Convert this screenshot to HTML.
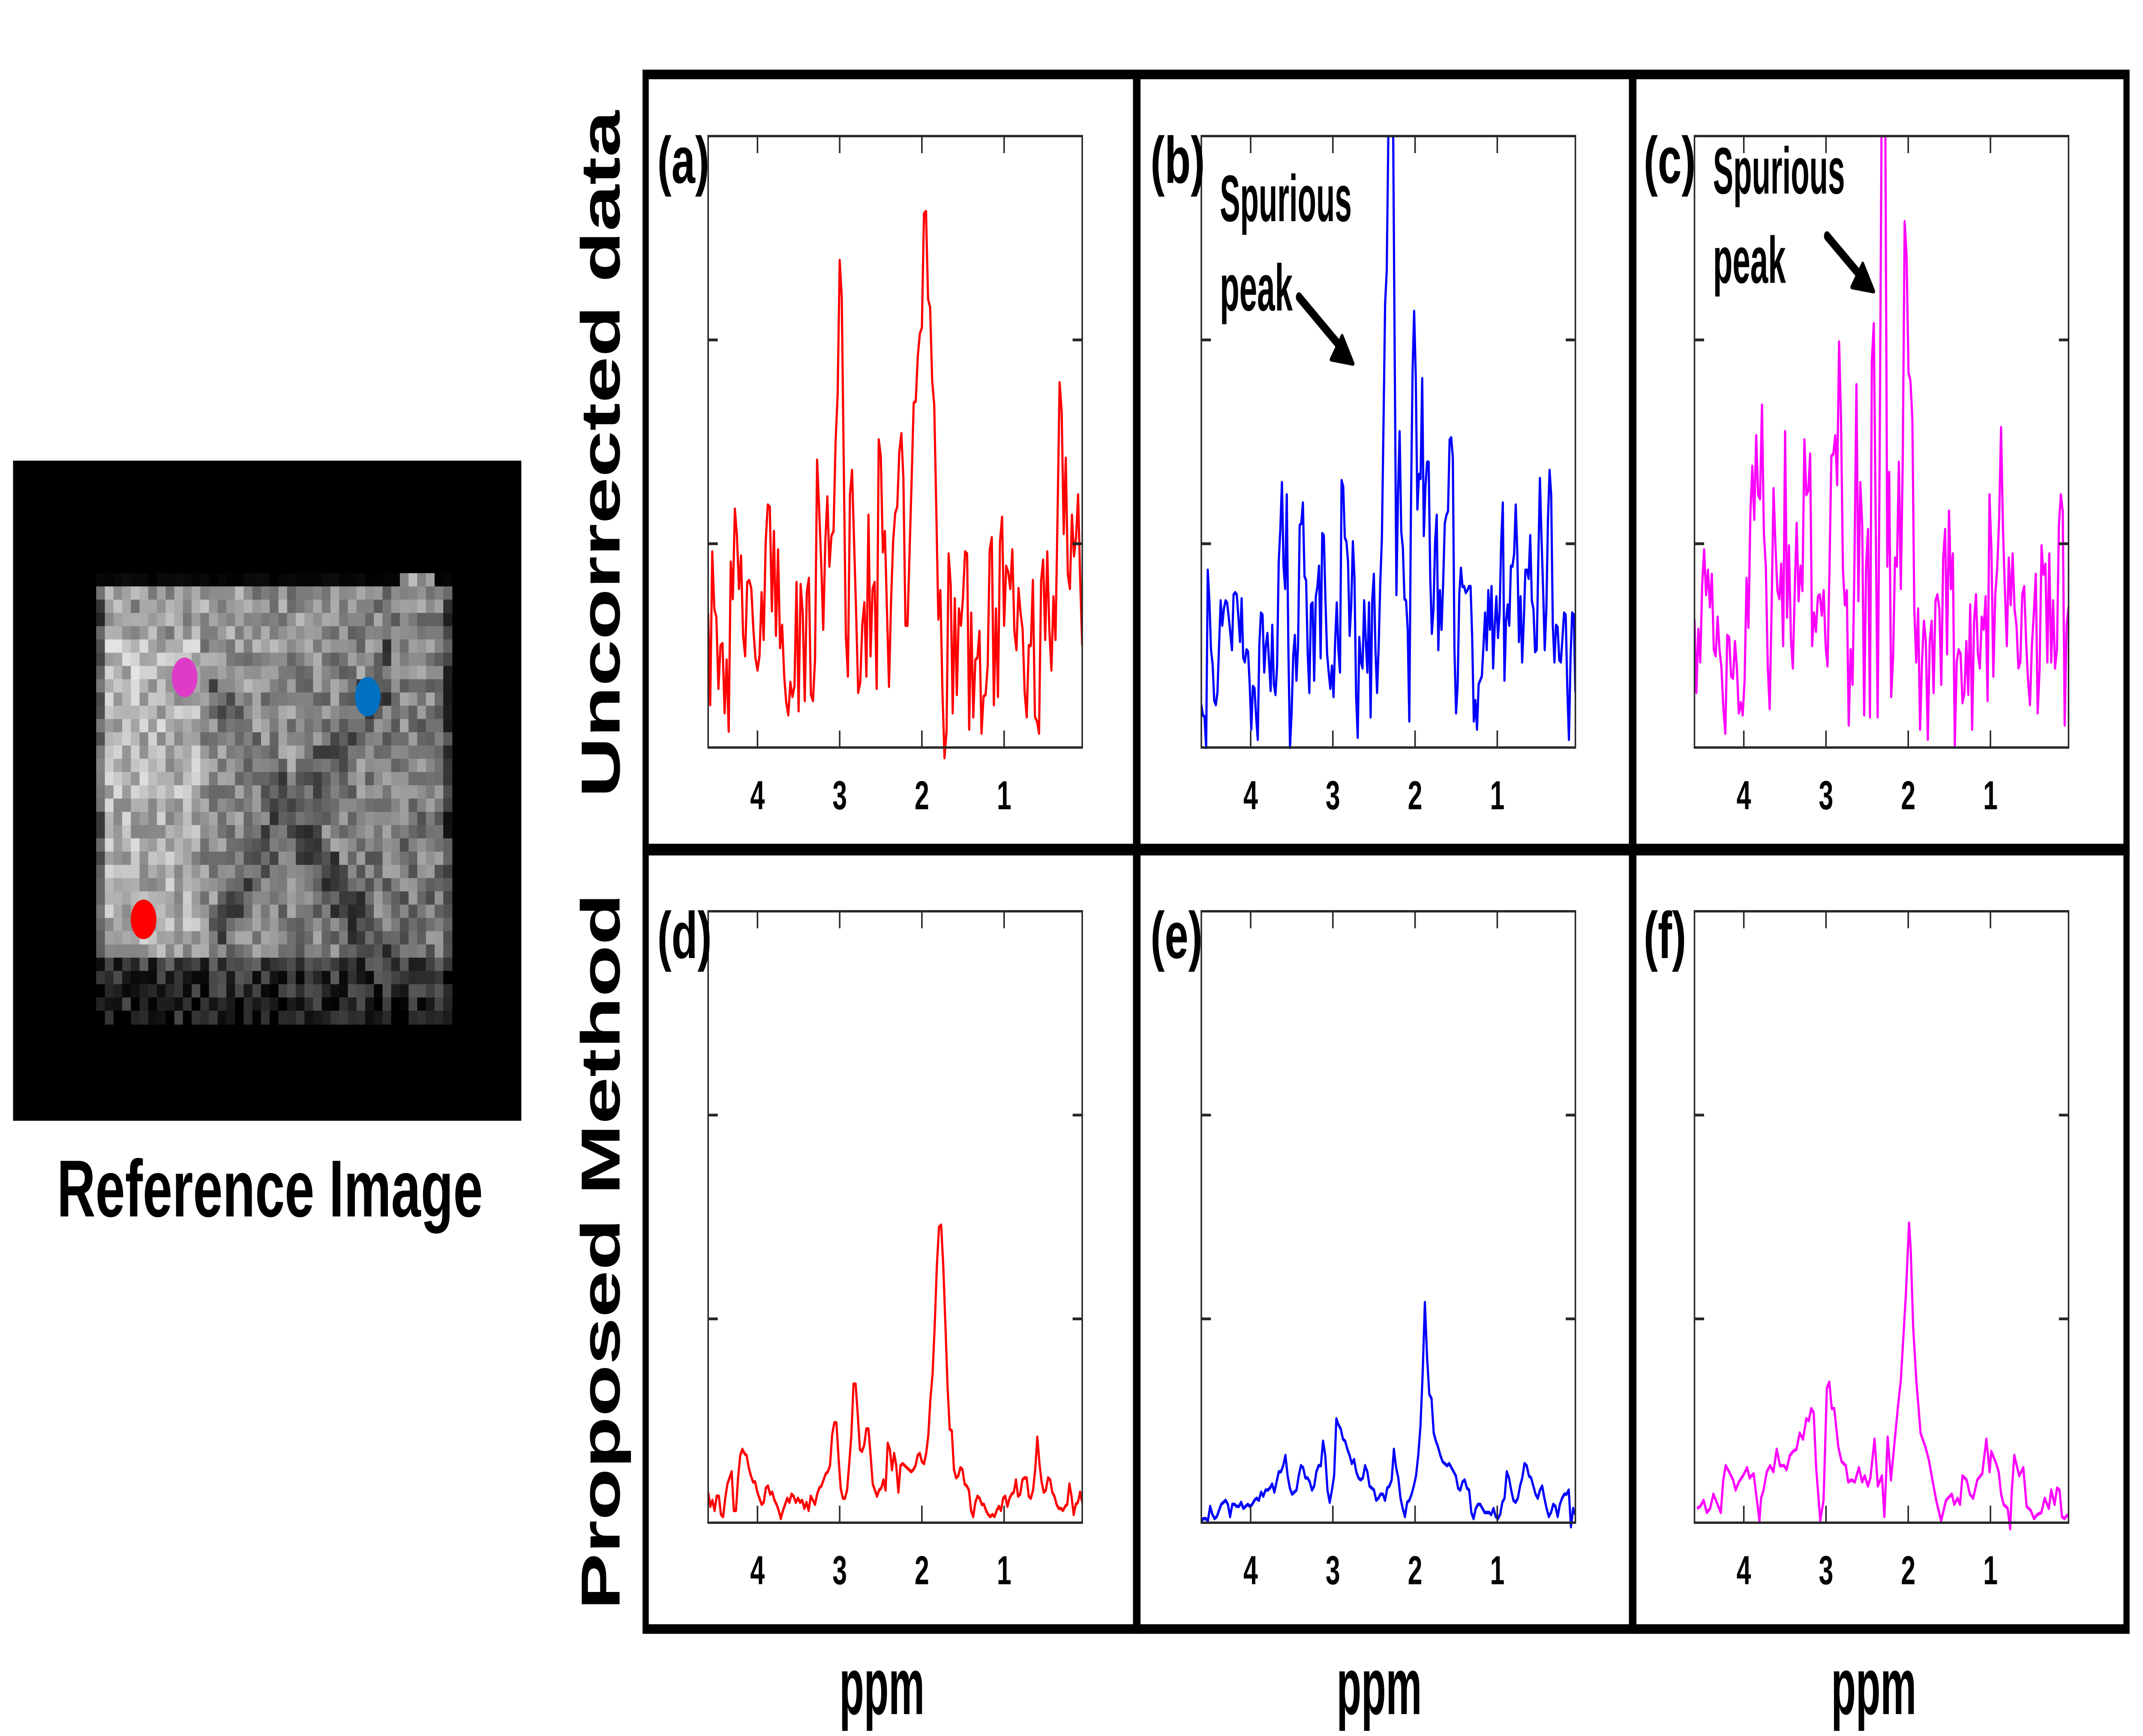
<!DOCTYPE html>
<html><head><meta charset="utf-8">
<style>
html,body{margin:0;padding:0;background:#fff;width:100vw;height:100vh;overflow:hidden;}
svg{display:block;position:absolute;left:0;top:0;width:100vw;height:100vh;}
text{font-family:"Liberation Sans Narrow","Liberation Sans",sans-serif;font-weight:bold;fill:#000;}
.big{font-family:"Liberation Sans",sans-serif;}
</style></head>
<body>
<svg id="fig" xmlns="http://www.w3.org/2000/svg" viewBox="0 0 1560 816.3" preserveAspectRatio="none">
  <rect x="0" y="0" width="1560" height="816.3" fill="#fff"/>
  <g id="refimg">
    <rect x="9.5" y="216.6" width="370" height="310.4" fill="#000"/>
    <g id="pix"></g>
    <circle cx="134.4" cy="318.5" r="9.3" fill="#DD3BC8"/>
    <circle cx="267.7" cy="327.6" r="9.3" fill="#0070C0"/>
    <circle cx="104.5" cy="432.3" r="9.3" fill="#FF0000"/>
  </g>
  <text class="big" x="41.5" y="572" font-size="38" textLength="310" lengthAdjust="spacingAndGlyphs">Reference Image</text>

  <text class="big" font-size="40" transform="translate(451,213.5) rotate(-90)" text-anchor="middle" textLength="323" lengthAdjust="spacingAndGlyphs">Uncorrected data</text>
  <text class="big" font-size="40" transform="translate(451,588.5) rotate(-90)" text-anchor="middle" textLength="337" lengthAdjust="spacingAndGlyphs">Proposed Method</text>

  <text x="642" y="806" font-size="38" text-anchor="middle" textLength="62" lengthAdjust="spacingAndGlyphs">ppm</text>
  <text x="1004" y="806" font-size="38" text-anchor="middle" textLength="62" lengthAdjust="spacingAndGlyphs">ppm</text>
  <text x="1364" y="806" font-size="38" text-anchor="middle" textLength="62" lengthAdjust="spacingAndGlyphs">ppm</text>

  <g id="panels"></g>

  <g fill="none" stroke="#000" stroke-width="4.5">
    <rect x="470" y="35" width="357" height="364"/>
    <rect x="828" y="35" width="360" height="364"/>
    <rect x="1189" y="35" width="359" height="364"/>
    <rect x="470" y="400" width="357" height="366"/>
    <rect x="828" y="400" width="360" height="366"/>
    <rect x="1189" y="400" width="359" height="366"/>
  </g>

  <g>
    <text x="888" y="104" font-size="31" textLength="96" lengthAdjust="spacingAndGlyphs">Spurious</text>
    <text x="888" y="146" font-size="31" textLength="53" lengthAdjust="spacingAndGlyphs">peak</text>
    <line x1="945.6" y1="139.7" x2="977" y2="164" stroke="#000" stroke-width="4.5" stroke-linecap="round"/>
    <polygon points="985,171 969,169 977,158" fill="#000" stroke="#000" stroke-width="2" stroke-linejoin="round"/>
  </g>
  <g>
    <text x="1247" y="91" font-size="31" textLength="96" lengthAdjust="spacingAndGlyphs">Spurious</text>
    <text x="1247" y="133" font-size="31" textLength="53" lengthAdjust="spacingAndGlyphs">peak</text>
    <line x1="1330" y1="111" x2="1356" y2="131" stroke="#000" stroke-width="4.5" stroke-linecap="round"/>
    <polygon points="1364,137 1348,135 1356,124" fill="#000" stroke="#000" stroke-width="2" stroke-linejoin="round"/>
  </g>
</svg>
<script>
// ---------- chart data ----------
const xTicks = [4, 3, 2, 1];
const xTickLabels = ["4", "3", "2", "1"];
const yTicks = [1, 2];
const ppmStart = 4.6;
const ppmEnd = 0.05;
const yMin = 0;
const yMax = 3;

const seriesA = [0.66,0.21,0.96,0.68,0.64,0.29,0.50,0.51,0.17,0.43,0.08,0.91,0.73,1.17,1.04,0.78,0.94,0.55,0.45,0.81,0.82,0.78,0.58,0.44,0.38,0.45,0.76,0.53,1.01,1.19,1.18,0.67,1.06,0.55,0.97,0.49,0.60,0.35,0.22,0.16,0.32,0.25,0.30,0.81,0.18,0.80,0.66,0.23,0.76,0.83,0.26,0.23,0.43,1.41,1.17,0.91,0.58,1.01,1.23,0.89,1.04,1.06,1.50,1.73,2.39,2.21,1.37,0.55,0.35,1.24,1.36,1.01,0.66,0.27,0.32,0.60,0.71,0.35,1.14,0.45,0.78,0.81,0.29,1.51,1.43,0.96,1.06,0.67,0.30,0.72,1.01,1.15,1.18,1.45,1.54,1.32,0.60,0.60,0.96,1.31,1.69,1.70,1.92,2.03,2.06,2.62,2.63,2.20,2.16,1.80,1.68,1.17,0.63,0.77,0.27,-0.05,0.08,0.95,0.80,0.17,0.73,0.26,0.68,0.60,0.74,0.96,0.95,0.09,0.66,0.15,0.43,0.44,0.57,0.07,0.25,0.26,0.40,0.97,1.03,0.21,0.68,0.25,1.01,1.13,0.60,0.89,0.86,0.78,0.97,0.57,0.48,0.78,0.66,0.58,0.27,0.15,0.50,0.50,0.82,0.15,0.13,0.07,0.82,0.92,0.53,0.96,0.58,0.38,0.74,0.53,1.14,1.79,1.65,1.05,1.42,0.85,0.78,1.14,0.94,1.03,1.24,0.83,0.50];

const seriesB = [0.21,0.16,0.15,0,0.87,0.72,0.48,0.41,0.23,0.21,0.27,0.50,0.72,0.60,0.68,0.72,0.71,0.64,0.56,0.48,0.75,0.76,0.75,0.64,0.52,0.73,0.44,0.42,0.48,0.47,0.31,0.09,0.30,0.29,0.15,0.04,0.51,0.66,0.65,0.37,0.50,0.56,0.42,0.28,0.60,0.31,0.26,0.40,0.91,1.07,1.30,0.89,0.78,1.24,0.48,0,0.17,0.45,0.55,0.33,0.50,1.09,1.10,1.20,0.84,0.82,0.46,0.27,0.70,0.71,0.33,0.74,0.79,0.89,0.44,1.05,1.04,0.72,0.46,0.37,0.29,0.40,0.25,0.52,0.71,0.48,0.37,1.31,1.28,1.03,1.01,0.91,0.55,0.70,1.01,0.83,0.25,0.05,0.54,0.42,0.39,0.72,0.52,0.37,0.71,0.15,0.72,0.85,0.48,0.27,0.50,0.81,1.03,1.59,2.18,2.34,3.01,3.6,3.6,3.01,1.86,0.75,1.25,1.55,1.06,0.98,0.73,0.72,0.58,0.13,1.16,1.84,2.14,1.82,1.17,1.34,1.32,1.81,1.04,1.28,1.40,1.40,0.83,0.56,0.68,1.01,1.14,0.48,0.77,0.58,0.81,1.10,1.14,1.16,1.51,1.52,1.42,0.48,0.17,0.31,0.75,0.88,0.79,0.79,0.76,0.77,0.79,0.79,0.54,0.13,0.23,0.09,0.31,0.33,0.35,0.50,0.66,0.48,0.77,0.58,0.79,0.39,0.60,0.74,0.54,0.66,1.01,1.20,0.33,0.62,0.70,0.60,0.89,0.89,0.95,1.19,0.95,0.52,0.74,0.42,0.62,0.87,0.87,0.83,1.04,0.72,0.68,0.47,0.48,0.91,1.32,1.03,0.77,0.48,0.68,1.12,1.36,1.24,0.60,0.42,0.60,0.59,0.43,0.42,0.54,0.66,0.65,0.29,0.04,0.44,0.66,0.65,0.27];

const seriesC = [0.63,0.27,0.58,0.42,0.80,0.97,0.75,0.87,0.69,0.85,0.48,0.45,0.64,0.48,0.39,0.19,0.07,0.55,0.54,0.35,0.34,0.52,0.39,0.17,0.22,0.16,0.33,0.83,0.59,1.15,1.38,1.12,1.53,1.24,1.22,1.68,1.05,0.89,0.40,0.19,0.68,1.27,0.99,0.77,0.73,0.90,0.50,1.55,0.64,0.99,0.54,0.39,0.77,1.10,0.72,0.89,0.77,1.51,1.24,1.26,1.44,0.50,0.66,0.57,0.74,0.75,0.65,0.77,0.50,0.40,0.87,1.43,1.44,1.53,1.29,1.99,1.61,0.87,0.70,0.77,0.11,0.48,0.31,0.93,1.78,0.72,1.30,1.09,0.16,0.89,1.07,0.15,1.90,2.08,1.09,0.15,1.36,3.01,3.6,3.01,0.89,1.35,0.25,0.44,0.93,0.89,1.40,0.78,1.40,2.58,2.41,1.84,1.80,1.61,0.68,0.42,0.68,0.09,0.42,0.62,0.52,0.04,0.52,0.62,0.27,0.72,0.75,0.68,0.31,0.93,1.07,0.46,1.16,0.78,0.95,0.01,0.42,0.48,0.46,0.22,0.27,0.52,0.26,0.70,0.09,0.62,0.75,0.46,0.39,0.64,0.58,0.74,0.23,1.24,0.97,0.35,0.75,0.88,1.12,1.57,1.07,0.77,0.50,0.93,0.70,0.95,0.68,0.60,0.39,0.42,0.75,0.79,0.52,0.33,0.21,0.50,0.66,0.85,0.17,0.39,0.99,0.85,0.90,0.42,0.95,0.42,0.72,0.39,0.48,1.09,1.24,1.16,0.11,0.60,0.69];

const seriesD = [0.15,0.08,0.11,0.06,0.13,0.13,0.04,0.03,0.12,0.19,0.22,0.25,0.06,0.06,0.22,0.33,0.36,0.34,0.33,0.27,0.23,0.20,0.20,0.15,0.12,0.09,0.10,0.17,0.18,0.14,0.15,0.11,0.09,0.06,0.02,0.06,0.09,0.12,0.10,0.14,0.13,0.10,0.12,0.10,0.11,0.07,0.10,0.06,0.13,0.11,0.09,0.14,0.17,0.18,0.21,0.24,0.25,0.28,0.43,0.49,0.49,0.32,0.17,0.12,0.12,0.16,0.29,0.43,0.68,0.68,0.53,0.36,0.35,0.38,0.46,0.46,0.33,0.19,0.16,0.13,0.16,0.17,0.21,0.16,0.39,0.36,0.26,0.34,0.28,0.15,0.28,0.29,0.28,0.27,0.26,0.25,0.26,0.28,0.33,0.34,0.30,0.29,0.34,0.43,0.61,0.73,0.97,1.26,1.45,1.46,1.26,0.97,0.67,0.46,0.45,0.26,0.22,0.23,0.27,0.26,0.19,0.18,0.16,0.06,0.03,0.10,0.13,0.12,0.09,0.09,0.06,0.04,0.03,0.04,0.03,0.06,0.08,0.06,0.12,0.13,0.08,0.12,0.14,0.15,0.21,0.13,0.14,0.21,0.22,0.22,0.13,0.12,0.16,0.26,0.42,0.29,0.20,0.15,0.16,0.22,0.21,0.15,0.13,0.09,0.07,0.07,0.06,0.08,0.09,0.19,0.13,0.04,0.09,0.10,0.15,0.10];

const seriesE = [0.01,0.02,0.02,0.01,0.08,0.04,0.02,0.03,0.06,0.09,0.10,0.11,0.09,0.03,0.09,0.09,0.08,0.08,0.10,0.07,0.08,0.09,0.08,0.09,0.11,0.12,0.11,0.15,0.13,0.16,0.16,0.17,0.19,0.15,0.20,0.25,0.25,0.28,0.33,0.23,0.17,0.14,0.15,0.16,0.23,0.28,0.27,0.22,0.22,0.20,0.16,0.18,0.25,0.28,0.28,0.40,0.33,0.16,0.10,0.16,0.23,0.51,0.48,0.46,0.41,0.40,0.36,0.33,0.29,0.31,0.25,0.22,0.21,0.22,0.28,0.25,0.18,0.17,0.16,0.11,0.12,0.14,0.14,0.11,0.17,0.18,0.21,0.36,0.27,0.22,0.12,0.07,0.03,0.10,0.11,0.14,0.18,0.23,0.33,0.47,0.73,1.08,0.81,0.63,0.61,0.44,0.40,0.37,0.33,0.30,0.29,0.28,0.29,0.27,0.25,0.23,0.17,0.16,0.20,0.21,0.17,0.16,0.05,0.02,0.07,0.09,0.09,0.07,0.05,0.05,0.05,0.04,0.07,0.03,0.02,0.04,0.10,0.12,0.25,0.22,0.16,0.11,0.10,0.12,0.18,0.22,0.29,0.28,0.23,0.22,0.18,0.14,0.12,0.16,0.18,0.12,0.07,0.03,0.05,0.09,0.08,0.03,0.09,0.12,0.14,0.14,0.16,-0.02,0.07,0.04];

const ppmF = [4.57,4.53,4.49,4.45,4.41,4.37,4.32,4.28,4.25,4.22,4.18,4.13,4.10,4.06,4.01,3.96,3.93,3.88,3.85,3.81,3.79,3.76,3.72,3.68,3.64,3.60,3.56,3.51,3.48,3.44,3.40,3.36,3.32,3.28,3.24,3.21,3.18,3.15,3.12,3.07,3.03,2.99,2.96,2.93,2.90,2.85,2.81,2.76,2.73,2.69,2.65,2.60,2.56,2.53,2.49,2.46,2.41,2.37,2.32,2.29,2.25,2.21,2.13,2.09,2.03,1.99,1.97,1.94,1.90,1.85,1.79,1.75,1.71,1.66,1.60,1.54,1.47,1.44,1.40,1.37,1.34,1.29,1.25,1.21,1.16,1.10,1.05,1.01,0.99,0.93,0.90,0.87,0.84,0.79,0.76,0.74,0.71,0.68,0.65,0.60,0.56,0.51,0.47,0.43,0.38,0.34,0.29,0.26,0.22,0.19,0.16,0.13,0.10,0.06];
const seriesF = [0.07,0.08,0.11,0.05,0.07,0.14,0.09,0.05,0.21,0.28,0.25,0.21,0.16,0.20,0.23,0.27,0.22,0.24,0.14,0.01,0.12,0.16,0.25,0.28,0.25,0.36,0.28,0.28,0.26,0.33,0.35,0.36,0.44,0.41,0.51,0.50,0.56,0.54,0.27,0.01,0.11,0.66,0.69,0.56,0.56,0.37,0.30,0.28,0.20,0.21,0.20,0.27,0.20,0.23,0.18,0.22,0.41,0.18,0.23,0.03,0.42,0.21,0.55,0.70,1.11,1.47,1.34,0.96,0.69,0.44,0.37,0.31,0.22,0.11,0.01,0.11,0.14,0.09,0.12,0.09,0.23,0.21,0.14,0.12,0.21,0.24,0.41,0.25,0.35,0.29,0.25,0.14,0.09,0.07,-0.03,0.16,0.33,0.28,0.23,0.27,0.08,0.06,0.02,0.04,0.05,0.12,0.07,0.16,0.09,0.17,0.16,0.03,0.02,0.04];

// ---------- layout ----------
const NS = "http://www.w3.org/2000/svg";
const panelsG = document.getElementById('panels');
const PW = 272.3, PH = 287.5;
const panels = [
  {id:'a', label:'(a)', left:515.5, top:64,    color:'#FF0000', values:seriesA, ppm:null},
  {id:'b', label:'(b)', left:874.5, top:64,    color:'#0000FF', values:seriesB, ppm:null},
  {id:'c', label:'(c)', left:1233.5, top:64,   color:'#FF00FF', values:seriesC, ppm:null},
  {id:'d', label:'(d)', left:515.5, top:428.5, color:'#FF0000', values:seriesD, ppm:null},
  {id:'e', label:'(e)', left:874.5, top:428.5, color:'#0000FF', values:seriesE, ppm:null},
  {id:'f', label:'(f)', left:1233.5, top:428.5, color:'#FF00FF', values:seriesF, ppm:ppmF}
];

function mk(tag, attrs, parent){
  const el = document.createElementNS(NS, tag);
  for (const k in attrs) el.setAttribute(k, attrs[k]);
  parent.appendChild(el);
  return el;
}

panels.forEach(p => {
  const g = mk('g', {}, panelsG);
  
  
  const xs = ppm => p.left + (ppmStart - ppm) / (ppmStart - ppmEnd) * PW;
  const ys = v => p.top + PH - (v - yMin) / (yMax - yMin) * PH;

  const cp = mk('clipPath', {id:'clip-' + p.id}, g);
  mk('rect', {x:p.left, y:p.top, width:PW, height:PH + 12}, cp);

  const n = p.values.length;
  let d = '';
  p.values.forEach((v, i) => {
    const ppm = p.ppm ? p.ppm[i] : ppmStart - i * (ppmStart - ppmEnd) / (n - 1);
    d += (i ? 'L' : 'M') + xs(ppm).toFixed(2) + ',' + ys(v).toFixed(2);
  });
  const path = mk('path', {d:d, fill:'none', stroke:p.color, 'stroke-width':1.6, 'stroke-linejoin':'round', 'clip-path':'url(#clip-' + p.id + ')'}, g);
  
  

  const box = mk('rect', {x:p.left, y:p.top, width:PW, height:PH, fill:'none', stroke:'#262626', 'stroke-width':1.1}, g);
  
  

  xTicks.forEach((t, i) => {
    const x = xs(t);
    const tb = mk('line', {x1:x, x2:x, y1:p.top + PH, y2:p.top + PH - 8, stroke:'#262626', 'stroke-width':1.1}, g);
    
    
    mk('line', {x1:x, x2:x, y1:p.top, y2:p.top + 8, stroke:'#262626', 'stroke-width':1.1}, g);
    const lbl = mk('text', {x:x, y:p.top + PH + 29, 'font-size':19, 'text-anchor':'middle', fill:'#262626'}, g);
    lbl.textContent = xTickLabels[i];
    
    
  });
  yTicks.forEach(t => {
    const y = ys(t);
    const tl = mk('line', {x1:p.left, x2:p.left + 7, y1:y, y2:y, stroke:'#262626', 'stroke-width':1.3}, g);
    
    
    mk('line', {x1:p.left + PW, x2:p.left + PW - 7, y1:y, y2:y, stroke:'#262626', 'stroke-width':1.3}, g);
  });
  const pl = mk('text', {x:p.left - 37, y:p.top + 22, 'font-size':31}, g);
  pl.textContent = p.label;
  
  
});

// ---------- reference image pixels (decorative texture) ----------
(function(){
  const pg = document.getElementById('pix');
  let s = 12345;
  const rnd = () => { s = (s * 1103515245 + 12345) % 2147483648; return s / 2147483648; };
  const x0 = 70, y0 = 269.5, cols = 41, rows = 34, cw = 259 / 41, ch = 212 / 34;
  let html = '';
  for (let r = 0; r < rows; r++) {
    for (let c = 0; c < cols; c++) {
      let b;
      if (r === 0) { b = (c > 34 && c < 39) ? 0.45 * rnd() + 0.3 : 0.05 * rnd(); }
      else {
        const u = c / (cols - 1), v = (r - 1) / (rows - 2);
        b = 0.55 - 0.12 * u + 0.08 * (1 - v);
        if (u < 0.3 && v > 0.1 && v < 0.85) b += 0.12;
        const dx1 = Math.abs(v - (0.2 + (u - 0.3) * 1.3)), dx2 = Math.abs(v - (1.0 - (u - 0.15) * 1.2));
        if (u > 0.3 && u < 0.85 && (dx1 < 0.07 || dx2 < 0.07)) b -= 0.18;
        if (v > 0.86) b = 0.1 + 0.15 * (1 - (v - 0.86) / 0.14);
        if (c === 0 || c === cols - 1) b *= 0.5;
        b += (rnd() - 0.5) * 0.35;
      }
      b = Math.max(0, Math.min(0.95, b));
      const g = Math.round(b * 255);
      html += '<rect x="' + (x0 + c * cw).toFixed(2) + '" y="' + (y0 + r * ch).toFixed(2) + '" width="' + (cw + 0.3).toFixed(2) + '" height="' + (ch + 0.3).toFixed(2) + '" fill="rgb(' + g + ',' + g + ',' + g + ')"/>';
    }
  }
  pg.innerHTML = html;
})();
</script>
</body></html>
